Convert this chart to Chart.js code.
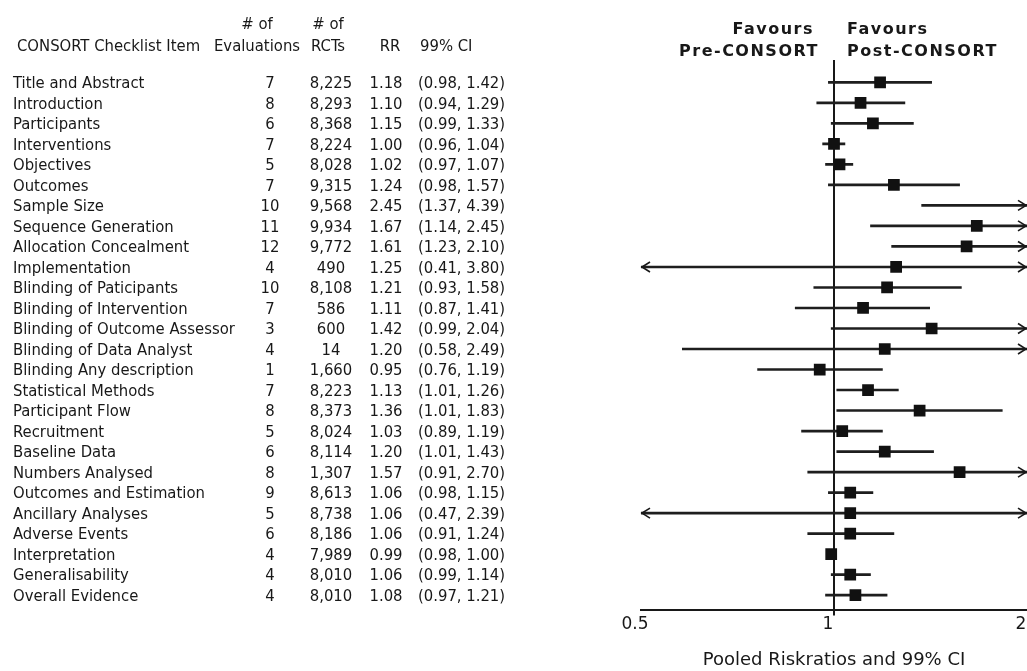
<!DOCTYPE html>
<html>
<head>
<meta charset="utf-8">
<title>CONSORT checklist items: pooled risk ratios</title>
<script src="https://cdn.jsdelivr.net/npm/chart.js@4/dist/chart.umd.min.js"></script>
<style>
  html, body { margin: 0; padding: 0; background: #fff; overflow: hidden; }
  #wrap { position: relative; width: 1027px; height: 671px; }
  canvas { display: block; }
</style>
</head>
<body>
<div id="wrap"><canvas id="forest" width="1027" height="671"></canvas></div>
<script>
// Checklist items, top to bottom
const items = [
  "Title and Abstract", "Introduction", "Participants", "Interventions", "Objectives",
  "Outcomes", "Sample Size", "Sequence Generation", "Allocation Concealment",
  "Implementation", "Blinding of Paticipants", "Blinding of Intervention",
  "Blinding of Outcome Assessor", "Blinding of Data Analyst", "Blinding Any description",
  "Statistical Methods", "Participant Flow", "Recruitment", "Baseline Data",
  "Numbers Analysed", "Outcomes and Estimation", "Ancillary Analyses", "Adverse Events",
  "Interpretation", "Generalisability", "Overall Evidence"
];
const evaluations = [7, 8, 6, 7, 5, 7, 10, 11, 12, 4, 10, 7, 3, 4, 1, 7, 8, 5, 6, 8, 9, 5, 6, 4, 4, 4];
const rcts = [8225, 8293, 8368, 8224, 8028, 9315, 9568, 9934, 9772, 490, 8108, 586, 600, 14,
  1660, 8223, 8373, 8024, 8114, 1307, 8613, 8738, 8186, 7989, 8010, 8010];
const riskRatios = [1.18, 1.10, 1.15, 1.00, 1.02, 1.24, 2.45, 1.67, 1.61, 1.25, 1.21, 1.11, 1.42,
  1.20, 0.95, 1.13, 1.36, 1.03, 1.20, 1.57, 1.06, 1.06, 1.06, 0.99, 1.06, 1.08];
const ciLower = [0.98, 0.94, 0.99, 0.96, 0.97, 0.98, 1.37, 1.14, 1.23, 0.41, 0.93, 0.87, 0.99,
  0.58, 0.76, 1.01, 1.01, 0.89, 1.01, 0.91, 0.98, 0.47, 0.91, 0.98, 0.99, 0.97];
const ciUpper = [1.42, 1.29, 1.33, 1.04, 1.07, 1.57, 4.39, 2.45, 2.10, 3.80, 1.58, 1.41, 2.04,
  2.49, 1.19, 1.26, 1.83, 1.19, 1.43, 2.70, 1.15, 2.39, 1.24, 1.00, 1.14, 1.21];
const xTicks = [0.5, 1, 2];

const INK = '#181818';
const BODY_FONT = '16.5px "DejaVu Sans Condensed", "DejaVu Sans", sans-serif';
const HEAD_FONT = 'bold 16px "DejaVu Sans", sans-serif';

// Reference line at RR = 1, clipped-interval arrowheads and the text table
const forestDecor = {
  id: 'forestDecor',
  beforeDatasetsDraw(chart) {
    const { ctx, chartArea, scales: { x } } = chart;
    const px = Math.round(x.getPixelForValue(1));
    ctx.save();
    ctx.strokeStyle = INK;
    ctx.lineWidth = 2;
    ctx.beginPath();
    ctx.moveTo(px, chartArea.top);
    ctx.lineTo(px, chartArea.bottom + 6);
    ctx.stroke();
    ctx.restore();
  },
  afterDatasetsDraw(chart) {
    const { ctx, chartArea, scales: { x, y } } = chart;
    ctx.save();
    ctx.strokeStyle = INK;
    ctx.lineWidth = 1.6;
    items.forEach((_, i) => {
      const py = y.getPixelForValue(i);
      if (ciUpper[i] > x.max) {
        const tip = chartArea.right - 1;
        ctx.beginPath();
        ctx.moveTo(tip - 8, py - 5);
        ctx.lineTo(tip, py);
        ctx.lineTo(tip - 8, py + 5);
        ctx.stroke();
      }
      if (ciLower[i] < x.min) {
        const tip = chartArea.left + 1;
        ctx.beginPath();
        ctx.moveTo(tip + 8, py - 5);
        ctx.lineTo(tip, py);
        ctx.lineTo(tip + 8, py + 5);
        ctx.stroke();
      }
    });
    ctx.restore();
  },
  afterDraw(chart) {
    const { ctx, scales: { y } } = chart;
    ctx.save();
    ctx.fillStyle = INK;
    ctx.textBaseline = 'middle';

    // column headings
    ctx.font = BODY_FONT;
    ctx.textAlign = 'center';
    ctx.fillText('# of', 257, 25);
    ctx.fillText('# of', 328, 25);
    ctx.fillText('Evaluations', 257, 47);
    ctx.fillText('RCTs', 328, 47);
    ctx.fillText('RR', 390, 47);
    ctx.textAlign = 'left';
    ctx.fillText('CONSORT Checklist Item', 17, 47);
    ctx.fillText('99% CI', 420, 47);

    // rows
    items.forEach((name, i) => {
      const py = y.getPixelForValue(i) + 1.5;
      ctx.textAlign = 'left';
      ctx.fillText(name, 13, py);
      ctx.textAlign = 'center';
      ctx.fillText(String(evaluations[i]), 270, py);
      ctx.fillText(rcts[i].toLocaleString('en-US'), 331, py);
      ctx.fillText(riskRatios[i].toFixed(2), 386, py);
      ctx.textAlign = 'left';
      ctx.fillText('(' + ciLower[i].toFixed(2) + ', ' + ciUpper[i].toFixed(2) + ')', 418, py);
    });

    // direction labels above the plot
    ctx.font = HEAD_FONT;
    if ('letterSpacing' in ctx) ctx.letterSpacing = '1.5px';
    ctx.textAlign = 'right';
    ctx.fillText('Favours', 814, 30);
    ctx.fillText('Pre-CONSORT', 819, 52);
    ctx.textAlign = 'left';
    ctx.fillText('Favours', 847, 30);
    ctx.fillText('Post-CONSORT', 847, 52);
    ctx.restore();
  }
};

new Chart(document.getElementById('forest'), {
  type: 'bar',
  data: {
    datasets: [
      {
        type: 'scatter',
        label: 'Risk ratio',
        data: items.map((_, i) => ({ x: riskRatios[i], y: i })),
        pointStyle: 'rect',
        pointRadius: 8.3,
        pointHoverRadius: 8.3,
        backgroundColor: '#111',
        borderWidth: 0,
        showLine: false,
        clip: 0,
        order: 0
      },
      {
        type: 'bar',
        label: '99% CI',
        indexAxis: 'y',
        data: items.map((_, i) => ({ x: [ciLower[i], ciUpper[i]], y: i })),
        backgroundColor: '#1e1e1e',
        borderWidth: 0,
        barThickness: 2,
        clip: 0,
        order: 1
      }
    ]
  },
  options: {
    responsive: false,
    animation: false,
    events: [],
    layout: { autoPadding: false, padding: { left: 641, top: 60, right: 0, bottom: 0 } },
    plugins: {
      legend: { display: false },
      tooltip: { enabled: false }
    },
    scales: {
      x: {
        type: 'logarithmic',
        position: 'bottom',
        min: 0.5,
        max: 2,
        offset: false,
        afterBuildTicks: s => { s.ticks = xTicks.map(v => ({ value: v })); },
        afterFit: s => { s.height = 61.5; s.paddingLeft = 0; s.paddingRight = 0; },
        grid: { display: false, drawTicks: false },
        border: { display: true, color: INK, width: 2 },
        ticks: {
          color: INK,
          font: { family: '"DejaVu Sans", sans-serif', size: 17 },
          padding: 5,
          labelOffset: -6,
          autoSkip: false,
          maxRotation: 0,
          callback: v => String(v)
        },
        title: {
          display: true,
          text: 'Pooled Riskratios and 99% CI',
          color: INK,
          font: { family: '"DejaVu Sans", sans-serif', size: 18 },
          padding: { top: 0, bottom: 0 }
        }
      },
      y: {
        type: 'linear',
        reverse: true,
        offset: false,
        min: -1.09,
        max: 25.7,
        display: false
      }
    }
  },
  plugins: [forestDecor]
});
</script>
</body>
</html>
